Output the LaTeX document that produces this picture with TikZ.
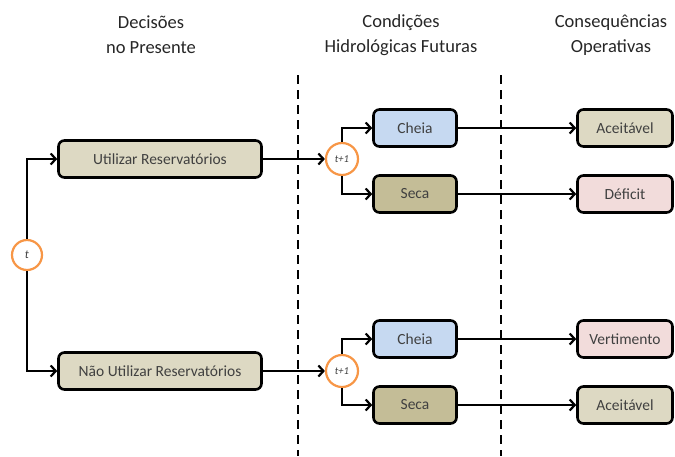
\documentclass[tikz,border=0pt]{standalone}
\usepackage{fontspec}
\setmainfont{Carlito}
\usetikzlibrary{arrows.meta}
\definecolor{tanbox}{HTML}{DDD9C3}
\definecolor{darktan}{HTML}{C4BD97}
\definecolor{bluebox}{HTML}{C6D9F1}
\definecolor{pinkbox}{HTML}{F2DCDB}
\definecolor{orangec}{HTML}{F79646}
\definecolor{textgray}{HTML}{404040}
\definecolor{headgray}{HTML}{262626}
\begin{document}
\begin{tikzpicture}[x=1pt,y=-1pt,
  box/.style={draw=black, line width=2.6pt, rounded corners=6pt, minimum height=37pt, inner sep=0pt, text=textgray, font=\fontsize{15.5}{17}\selectfont},
  tnode/.style={circle, draw=orangec, line width=2.2pt, fill=white, minimum size=30pt, inner sep=0pt, text=textgray, font=\itshape\fontsize{12}{14}\selectfont},
  conn/.style={line width=2.2pt, -{Straight Barb[length=5pt,width=11pt]}},
  divider/.style={line width=2.4pt, dash pattern=on 9pt off 6pt},
  head/.style={align=center, text=headgray, font=\fontsize{18.5}{25}\selectfont}]
\useasboundingbox (0,0) rectangle (675,456);
% headers
\node[head] (h1) at (151,35) {Decisões\\no Presente};
\node[head] (h2) at (401,35) {Condições\\Hidrológicas Futuras};
\node[head] (h3) at (611,35) {Consequências\\Operativas};
% dividers
\coordinate (d1a) at (298,75); \coordinate (d1b) at (298,456);
\coordinate (d2a) at (501,75); \coordinate (d2b) at (501,456);
\draw[divider] (d1a) -- (d1b);
\draw[divider] (d2a) -- (d2b);
% decisions
\node[box, fill=tanbox, minimum width=203pt] (u) at (160,159) {Utilizar Reservatórios};
\node[box, fill=tanbox, minimum width=203pt] (n) at (160,371) {Não Utilizar Reservatórios};
\node[tnode] (t) at (27,255) {t};
\draw[conn] (t.north) |- (u.west);
\draw[conn] (t.south) |- (n.west);
% future conditions
\node[tnode, minimum size=32pt, font=\itshape\fontsize{10.5}{12}\selectfont] (c1) at (342,159) {t+1};
\node[tnode, minimum size=32pt, font=\itshape\fontsize{10.5}{12}\selectfont] (c2) at (342,371) {t+1};
\node[box, fill=bluebox, minimum width=83pt] (ch1) at (415,128) {Cheia};
\node[box, fill=darktan, minimum width=83pt] (se1) at (415,194) {Seca};
\node[box, fill=bluebox, minimum width=83pt] (ch2) at (415,339) {Cheia};
\node[box, fill=darktan, minimum width=83pt] (se2) at (415,405) {Seca};
\draw[conn] (u.east) -- (c1.west);
\draw[conn] (n.east) -- (c2.west);
\draw[conn] (c1.north) |- (ch1.west);
\draw[conn] (c1.south) |- (se1.west);
\draw[conn] (c2.north) |- (ch2.west);
\draw[conn] (c2.south) |- (se2.west);
% consequences
\node[box, fill=tanbox, minimum width=95pt] (a1) at (625,128) {Aceitável};
\node[box, fill=pinkbox, minimum width=95pt] (d1) at (625,194) {Déficit};
\node[box, fill=pinkbox, minimum width=95pt] (v2) at (625,339) {Vertimento};
\node[box, fill=tanbox, minimum width=95pt] (a2) at (625,405) {Aceitável};
\draw[conn] (ch1.east) -- (a1.west);
\draw[conn] (se1.east) -- (d1.west);
\draw[conn] (ch2.east) -- (v2.west);
\draw[conn] (se2.east) -- (a2.west);
\end{tikzpicture}
\end{document}
